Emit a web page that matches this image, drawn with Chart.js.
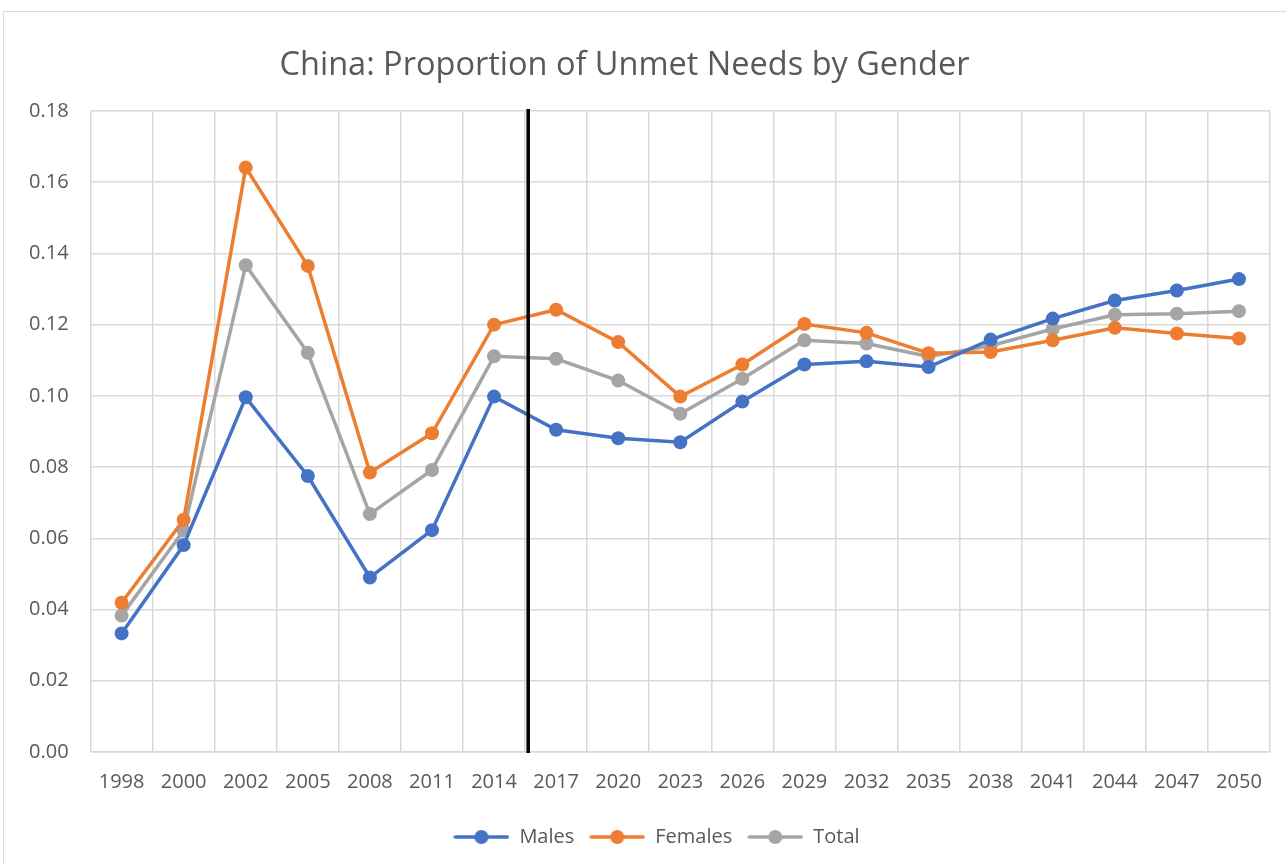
<!DOCTYPE html>
<html>
<head>
<meta charset="utf-8">
<script src="https://cdn.jsdelivr.net/npm/chart.js@4"></script>
<style>
  html, body { margin: 0; padding: 0; background: #fff; }
  #frame { position: absolute; left: 3px; top: 11px; width: 1290px; height: 860px; border: 1px solid #d9d9d9; box-sizing: border-box; }
  #wrap { position: absolute; left: 0; top: 0; width: 1286px; height: 865px; }
</style>
</head>
<body>
<div id="frame"></div>
<div id="wrap"><canvas id="chart"></canvas></div>
<script>
const years = ['1998','2000','2002','2005','2008','2011','2014','2017','2020','2023','2026','2029','2032','2035','2038','2041','2044','2047','2050'];

const males   = [0.0333,0.0581,0.0996,0.0775,0.0490,0.0623,0.0998,0.0905,0.0881,0.0870,0.0984,0.1088,0.1097,0.1081,0.1158,0.1217,0.1268,0.1296,0.1328];
const females = [0.0419,0.0652,0.1641,0.1365,0.0785,0.0895,0.1200,0.1242,0.1151,0.0998,0.1088,0.1202,0.1177,0.1120,0.1123,0.1156,0.1191,0.1175,0.1161];
const total   = [0.0383,0.0622,0.1367,0.1121,0.0668,0.0792,0.1111,0.1104,0.1043,0.0950,0.1048,0.1156,0.1147,0.1111,0.1141,0.1188,0.1228,0.1231,0.1238];

// where the black divider sits, in category units (between 2014 and 2017)
const dividerAt = 6.55;

const textColor = '#595959';
const gridColor = '#d9d9d9';
const font = "'Open Sans', sans-serif";

// legend marker: short line with a dot in the middle
function legendMarker(color){
    const c = document.createElement('canvas');
    c.width = 56; c.height = 16;
    const g = c.getContext('2d');
    g.strokeStyle = color;
    g.lineWidth = 3.5;
    g.lineCap = 'round';
    g.beginPath(); g.moveTo(2, 8); g.lineTo(54, 8); g.stroke();
    g.fillStyle = color;
    g.beginPath(); g.arc(28, 8, 7, 0, Math.PI*2); g.fill();
    return c;
}

const dividerLine = {
    id: 'dividerLine',
    afterLayout(chart){
        // excel puts the title a bit left and the legend a bit right of centre
        chart.titleBlock.right -= 28;
        chart.legend.left += 36;
    },
    afterDatasetsDraw(chart){
        const x = chart.scales.x;
        const area = chart.chartArea;
        const lo = Math.floor(dividerAt);
        const px = x.getPixelForValue(lo) + (dividerAt - lo) * (x.getPixelForValue(lo+1) - x.getPixelForValue(lo));
        const ctx = chart.ctx;
        ctx.save();
        ctx.strokeStyle = '#000';
        ctx.lineWidth = 3.5;
        ctx.beginPath();
        ctx.moveTo(px, area.top - 2);
        ctx.lineTo(px, area.bottom + 1);
        ctx.stroke();
        ctx.restore();
    }
};

function series(label, values, color){
    return {
        label: label,
        data: values,
        borderColor: color,
        backgroundColor: color,
        borderWidth: 3.5,
        pointRadius: 7,
        pointHoverRadius: 7,
        pointBorderWidth: 0,
        pointStyle: 'circle',
        tension: 0
    };
}

const ctx = document.getElementById('chart').getContext('2d');
new Chart(ctx, {
    type: 'line',
    data: {
        labels: years,
        datasets: [
            series('Males', males, '#4472C4'),
            series('Females', females, '#ED7D31'),
            series('Total', total, '#A5A5A5')
        ]
    },
    options: {
        responsive: true,
        maintainAspectRatio: false,
        animation: false,
        layout: { padding: { top: 30, left: 7, right: 16, bottom: 8 } },
        plugins: {
            title: {
                display: true,
                text: 'China: Proportion of Unmet Needs by Gender',
                color: textColor,
                font: { family: font, size: 32.5, weight: 'normal' },
                padding: { top: 16, bottom: 26 }
            },
            legend: {
                position: 'bottom',
                labels: {
                    color: textColor,
                    font: { family: font, size: 20 },
                    usePointStyle: true,
                    pointStyleWidth: 56,
                    boxWidth: 56,
                    boxHeight: 16,
                    padding: 15,
                    generateLabels(chart){
                        const items = Chart.defaults.plugins.legend.labels.generateLabels(chart);
                        items.forEach((it)=>{
                            it.pointStyle = legendMarker(chart.data.datasets[it.datasetIndex].borderColor);
                        });
                        return items;
                    }
                }
            },
            tooltip: { enabled: false }
        },
        scales: {
            x: {
                type: 'category',
                offset: true,
                grid: { color: gridColor, lineWidth: 1.5, offset: true, drawTicks: false },
                border: { color: gridColor, width: 1.5 },
                ticks: { color: textColor, font: { family: font, size: 20 }, padding: 18, maxRotation: 0, autoSkip: false }
            },
            y: {
                min: 0,
                max: 0.18,
                grid: { color: gridColor, lineWidth: 1.5, drawTicks: false },
                border: { display: false },
                ticks: {
                    stepSize: 0.02,
                    color: textColor,
                    font: { family: font, size: 20 },
                    padding: 22,
                    callback: (v)=> Number(v).toFixed(2)
                }
            }
        }
    },
    plugins: [dividerLine]
});
</script>
</body>
</html>
